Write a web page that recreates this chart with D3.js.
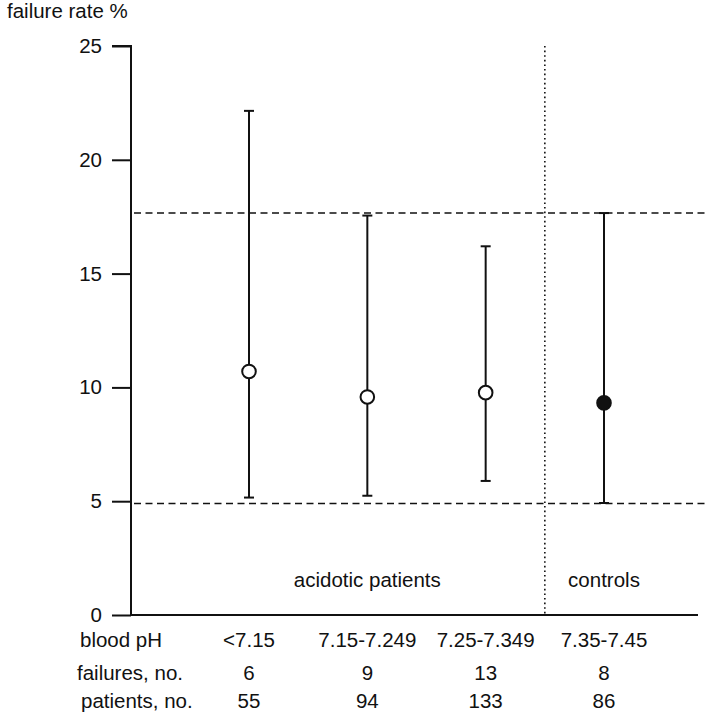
<!DOCTYPE html>
<html><head><meta charset="utf-8">
<script src="https://cdn.jsdelivr.net/npm/d3@7"></script>
<style>
body{margin:0;background:#fff;}
text{font-family:"Liberation Sans",Arial,Helvetica,sans-serif;fill:#111;}
</style></head>
<body><svg id="c" width="709" height="720"></svg>
<script>
const categories = ["<7.15","7.15-7.249","7.25-7.349","7.35-7.45"];
const rate = [10.7, 9.58, 9.77, 9.32];
const lower = [5.16, 5.24, 5.89, 4.92];
const upper = [22.15, 17.55, 16.2, 17.66];
const filled = [false, false, false, true];
const failures = [6, 9, 13, 8];
const patients = [55, 94, 133, 86];
const refLines = [17.66, 4.9];
const yTicks = [0,5,10,15,20,25];
const groupLabels = ["acidotic patients","controls"];

const svg = d3.select("#c");
const y = d3.scaleLinear().domain([0,25]).range([615,46]);
const x = d3.scalePoint().domain(categories).range([249,604]);
const axisX = 131;
const fs = 20.5;

// y axis
const yAxis = d3.axisLeft(y).tickValues(yTicks).tickSize(19).tickPadding(10);
const ga = svg.append("g").attr("transform",`translate(${axisX},0)`).call(yAxis);
ga.select(".domain").attr("d",`M-19,${y(25)}H0V${y(0)}`).attr("stroke","#111").attr("stroke-width",2);
ga.selectAll(".tick line").attr("stroke","#111").attr("stroke-width",2);
ga.selectAll(".tick text").attr("font-size",fs).attr("font-family","Liberation Sans, Arial, sans-serif").attr("fill","#111");

// x axis line
svg.append("line").attr("x1",axisX).attr("x2",698).attr("y1",y(0)).attr("y2",y(0))
  .attr("stroke","#111").attr("stroke-width",2);

// reference dashed lines
svg.selectAll(".ref").data(refLines).enter().append("line")
  .attr("x1",axisX+3).attr("x2",709).attr("y1",d=>y(d)).attr("y2",d=>y(d))
  .attr("stroke","#111").attr("stroke-width",1.6).attr("stroke-dasharray","7,4.5");

// dotted separator
const sepX = (x(categories[2])+x(categories[3]))/2;
svg.append("line").attr("x1",sepX).attr("x2",sepX).attr("y1",y(25)).attr("y2",y(0))
  .attr("stroke","#111").attr("stroke-width",1.6).attr("stroke-dasharray","1.6,3");

// error bars
const capW = 5;
categories.forEach((c,i)=>{
  const cx = x(c);
  svg.append("line").attr("x1",cx).attr("x2",cx).attr("y1",y(upper[i])).attr("y2",y(lower[i]))
    .attr("stroke","#111").attr("stroke-width",2);
  [upper[i],lower[i]].forEach(v=>{
    svg.append("line").attr("x1",cx-capW).attr("x2",cx+capW).attr("y1",y(v)).attr("y2",y(v))
      .attr("stroke","#111").attr("stroke-width",2);
  });
  svg.append("circle").attr("cx",cx).attr("cy",y(rate[i])).attr("r",6.8)
    .attr("fill",filled[i]?"#111":"#fff").attr("stroke","#111").attr("stroke-width",2);
});

// y title
svg.append("text").attr("x",7).attr("y",18).attr("font-size",fs).text("failure rate %");

// group labels
svg.append("text").attr("x",x(categories[1])).attr("y",587).attr("text-anchor","middle").attr("font-size",fs).text(groupLabels[0]);
svg.append("text").attr("x",x(categories[3])).attr("y",587).attr("text-anchor","middle").attr("font-size",fs).text(groupLabels[1]);

// table rows
const rows = [
  {label:"blood pH", lx:80, yy:646.5, vals:categories},
  {label:"failures, no.", lx:77, yy:680, vals:failures},
  {label:"patients, no.", lx:81, yy:708, vals:patients}
];
rows.forEach(r=>{
  svg.append("text").attr("x",r.lx).attr("y",r.yy).attr("font-size",fs).text(r.label);
  r.vals.forEach((v,i)=>{
    svg.append("text").attr("x",x(categories[i])).attr("y",r.yy).attr("text-anchor","middle")
      .attr("font-size",fs).text(v);
  });
});
</script></body></html>
